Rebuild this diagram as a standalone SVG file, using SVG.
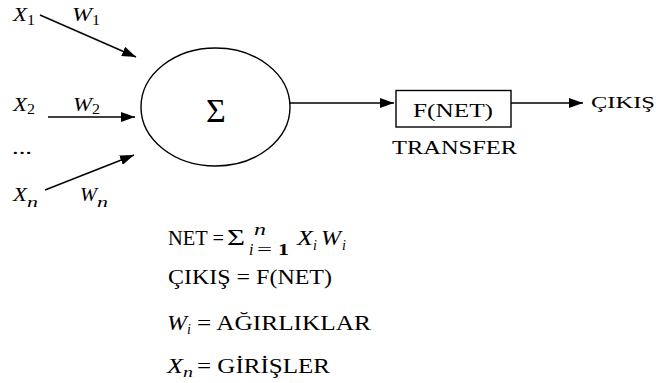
<svg xmlns="http://www.w3.org/2000/svg" width="656" height="383" viewBox="0 0 656 383">
<style>
text{font-family:"Liberation Serif","Times New Roman",serif;fill:#000}
.it{font-style:italic}
.lbl{font-size:18px}
.sub{font-size:14px}
.big{font-size:16px}
.eq{font-size:20px}
.ln{stroke:#000;stroke-width:1.4;fill:none}
</style>
<defs>
<marker id="ah" markerUnits="userSpaceOnUse" markerWidth="14" markerHeight="10" refX="14" refY="5" orient="auto">
<path d="M0,0 L14,5 L0,10 z" fill="#000"/>
</marker>
</defs>
<g id="inputs">
<text class="lbl it" x="13" y="21" textLength="14" lengthAdjust="spacingAndGlyphs">X</text>
<text class="sub" x="27" y="25" textLength="8" lengthAdjust="spacingAndGlyphs">1</text>
<text class="lbl it" x="72" y="21" textLength="20" lengthAdjust="spacingAndGlyphs">W</text>
<text class="sub" x="92" y="25" textLength="8" lengthAdjust="spacingAndGlyphs">1</text>
<text class="lbl it" x="13" y="111" textLength="14" lengthAdjust="spacingAndGlyphs">X</text>
<text class="sub" x="27" y="114" textLength="8" lengthAdjust="spacingAndGlyphs">2</text>
<text class="lbl it" x="73" y="111" textLength="19" lengthAdjust="spacingAndGlyphs">W</text>
<text class="sub" x="92" y="114" textLength="8" lengthAdjust="spacingAndGlyphs">2</text>
<text class="lbl" x="12" y="154" textLength="20" lengthAdjust="spacingAndGlyphs">...</text>
<text class="lbl it" x="13" y="201" textLength="14" lengthAdjust="spacingAndGlyphs">X</text>
<text class="sub it" x="27" y="207" textLength="11" lengthAdjust="spacingAndGlyphs">n</text>
<text class="lbl it" x="80" y="201" textLength="17" lengthAdjust="spacingAndGlyphs">W</text>
<text class="sub it" x="97" y="207" textLength="11" lengthAdjust="spacingAndGlyphs">n</text>
</g>
<g id="sum">
<ellipse cx="215.5" cy="107" rx="74.5" ry="59" fill="none" stroke="#000" stroke-width="1.4"/>
<text x="216" y="122" font-size="34" text-anchor="middle">Σ</text>
</g>
<g id="transfer">
<rect x="396" y="90.5" width="115" height="36.5" fill="none" stroke="#000" stroke-width="1.4"/>
<text x="413" y="117" font-size="18" textLength="80" lengthAdjust="spacingAndGlyphs">F(NET)</text>
<text x="392" y="154" font-size="18" textLength="125" lengthAdjust="spacingAndGlyphs">TRANSFER</text>
</g>
<g id="output">
<text x="591" y="108" font-size="17" textLength="64" lengthAdjust="spacingAndGlyphs">ÇIKIŞ</text>
</g>
<g id="connectors">
<line class="ln" x1="40" y1="15" x2="136" y2="57" marker-end="url(#ah)"/>
<line class="ln" x1="48" y1="117" x2="135" y2="117" marker-end="url(#ah)"/>
<line class="ln" x1="45" y1="190" x2="134" y2="155" marker-end="url(#ah)"/>
<line class="ln" x1="290" y1="103" x2="394" y2="103" marker-end="url(#ah)"/>
<line class="ln" x1="511" y1="103" x2="583" y2="103" marker-end="url(#ah)"/>
</g>
<g id="formulas">
<text class="eq" x="168" y="245" textLength="56" lengthAdjust="spacingAndGlyphs">NET =</text>
<text x="227" y="245" font-size="24" textLength="18" lengthAdjust="spacingAndGlyphs">Σ</text>
<text class="big it" x="254" y="235" textLength="12" lengthAdjust="spacingAndGlyphs">n</text>
<text class="big it" x="249" y="255">i</text>
<text class="big" x="257" y="255" textLength="15" lengthAdjust="spacingAndGlyphs">=</text>
<text class="big" x="278" y="255" font-weight="bold" textLength="11" lengthAdjust="spacingAndGlyphs">1</text>
<text class="eq it" x="297" y="245" textLength="16" lengthAdjust="spacingAndGlyphs">X</text>
<text class="sub it" x="313" y="250">i</text>
<text class="eq it" x="321" y="245" textLength="20" lengthAdjust="spacingAndGlyphs">W</text>
<text class="sub it" x="342" y="250">i</text>
<text class="eq" x="168" y="284" textLength="164" lengthAdjust="spacingAndGlyphs">ÇIKIŞ = F(NET)</text>
<text class="eq it" x="167" y="330" textLength="20" lengthAdjust="spacingAndGlyphs">W</text>
<text class="sub it" x="187" y="334">i</text>
<text class="eq" x="197" y="330" textLength="174" lengthAdjust="spacingAndGlyphs">= AĞIRLIKLAR</text>
<text class="eq it" x="167" y="373" textLength="16" lengthAdjust="spacingAndGlyphs">X</text>
<text class="sub it" x="183" y="377" textLength="10" lengthAdjust="spacingAndGlyphs">n</text>
<text class="eq" x="197" y="373" textLength="133" lengthAdjust="spacingAndGlyphs">= GİRİŞLER</text>
</g>
</svg>
